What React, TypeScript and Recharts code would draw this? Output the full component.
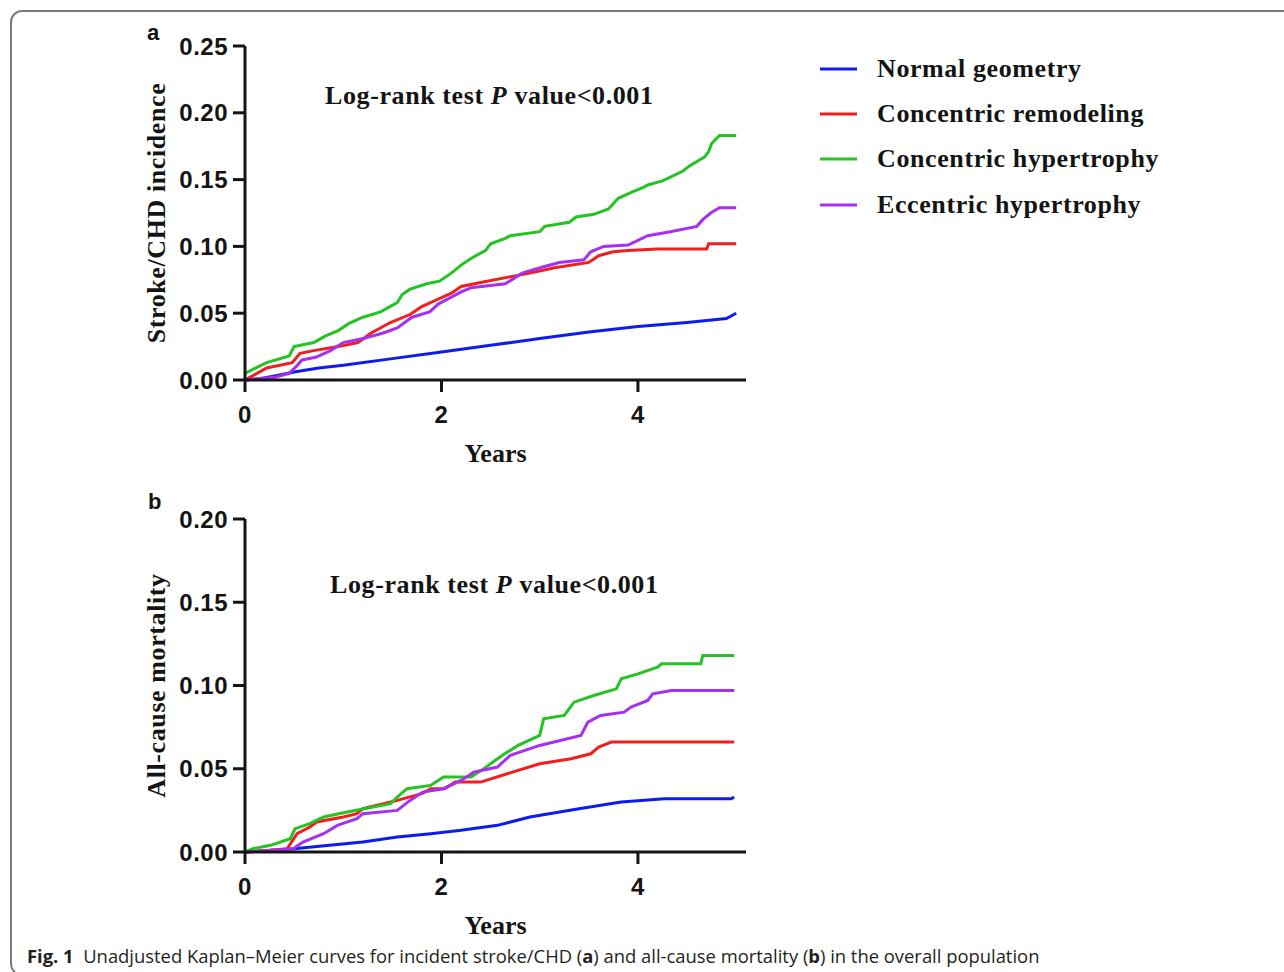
import { LineChart, Line, XAxis, YAxis, Legend, Label } from 'recharts';

// Kaplan-Meier estimates: [years, cumulative incidence]
const normalA: [number, number][] = [
  [0, 0], [0.15, 0.001], [0.3, 0.003], [0.5, 0.006], [0.75, 0.009], [1.0, 0.011], [1.5, 0.016],
  [2.0, 0.021], [2.5, 0.026], [3.0, 0.031], [3.5, 0.036], [4.0, 0.04], [4.5, 0.043], [4.9, 0.046], [5.0, 0.05],
];
const remodelingA: [number, number][] = [
  [0, 0], [0.1, 0.004], [0.22, 0.009], [0.48, 0.013], [0.56, 0.02], [0.7, 0.022], [0.95, 0.025],
  [1.15, 0.028], [1.28, 0.035], [1.48, 0.043], [1.68, 0.049], [1.8, 0.055], [1.98, 0.061], [2.1, 0.065],
  [2.2, 0.07], [2.4, 0.073], [2.68, 0.077], [2.9, 0.08], [3.15, 0.084], [3.5, 0.088], [3.6, 0.093],
  [3.75, 0.096], [3.9, 0.097], [4.2, 0.098], [4.7, 0.098], [4.72, 0.102], [5.0, 0.102],
];
const concentricA: [number, number][] = [
  [0, 0.005], [0.08, 0.008], [0.22, 0.013], [0.45, 0.018], [0.5, 0.025], [0.7, 0.028], [0.82, 0.033],
  [0.95, 0.037], [1.05, 0.042], [1.2, 0.047], [1.38, 0.051], [1.55, 0.058], [1.6, 0.064], [1.68, 0.068],
  [1.85, 0.072], [1.98, 0.074], [2.1, 0.08], [2.2, 0.086], [2.3, 0.091], [2.45, 0.097], [2.5, 0.102],
  [2.65, 0.106], [2.7, 0.108], [3.0, 0.111], [3.05, 0.115], [3.3, 0.118], [3.37, 0.122], [3.55, 0.124],
  [3.7, 0.128], [3.8, 0.136], [3.95, 0.141], [4.05, 0.144], [4.1, 0.146], [4.25, 0.149], [4.45, 0.156],
  [4.52, 0.16], [4.68, 0.167], [4.72, 0.171], [4.75, 0.177], [4.83, 0.183], [5.0, 0.183],
];
const eccentricA: [number, number][] = [
  [0, 0], [0.3, 0.002], [0.45, 0.005], [0.52, 0.01], [0.58, 0.015], [0.72, 0.017], [0.87, 0.022],
  [1.0, 0.028], [1.2, 0.031], [1.4, 0.035], [1.55, 0.039], [1.7, 0.047], [1.88, 0.051], [1.97, 0.057],
  [2.1, 0.062], [2.2, 0.066], [2.3, 0.069], [2.65, 0.072], [2.82, 0.08], [3.05, 0.085], [3.2, 0.088],
  [3.45, 0.09], [3.52, 0.096], [3.65, 0.1], [3.9, 0.101], [4.1, 0.108], [4.33, 0.111], [4.6, 0.115],
  [4.66, 0.12], [4.74, 0.125], [4.83, 0.129], [5.0, 0.129],
];

const normalB: [number, number][] = [
  [0, 0], [0.5, 0.002], [0.86, 0.004], [1.2, 0.006], [1.55, 0.009], [1.89, 0.011], [2.2, 0.013],
  [2.57, 0.016], [2.9, 0.021], [3.4, 0.026], [3.83, 0.03], [4.27, 0.032], [4.95, 0.032], [4.98, 0.033],
];
const remodelingB: [number, number][] = [
  [0, 0], [0.25, 0.001], [0.43, 0.002], [0.53, 0.011], [0.66, 0.015], [0.73, 0.018], [1.0, 0.021],
  [1.14, 0.023], [1.2, 0.026], [1.55, 0.031], [1.8, 0.035], [1.89, 0.038], [2.03, 0.038], [2.14, 0.042],
  [2.4, 0.042], [2.67, 0.047], [3.0, 0.053], [3.32, 0.056], [3.52, 0.059], [3.6, 0.063], [3.73, 0.066],
  [4.98, 0.066],
];
const concentricB: [number, number][] = [
  [0, 0], [0.08, 0.002], [0.26, 0.004], [0.46, 0.008], [0.51, 0.014], [0.66, 0.017], [0.8, 0.021],
  [1.04, 0.024], [1.48, 0.029], [1.55, 0.033], [1.65, 0.038], [1.89, 0.04], [2.02, 0.045], [2.3, 0.045],
  [2.43, 0.05], [2.57, 0.056], [2.67, 0.06], [2.78, 0.064], [3.0, 0.07], [3.04, 0.08], [3.25, 0.082],
  [3.35, 0.09], [3.55, 0.094], [3.78, 0.098], [3.83, 0.104], [4.0, 0.107], [4.2, 0.111], [4.24, 0.113],
  [4.64, 0.113], [4.66, 0.118], [4.98, 0.118],
];
const eccentricB: [number, number][] = [
  [0, 0], [0.3, 0.001], [0.49, 0.002], [0.59, 0.006], [0.8, 0.011], [0.94, 0.016], [1.14, 0.02],
  [1.2, 0.023], [1.55, 0.025], [1.68, 0.031], [1.81, 0.036], [2.02, 0.038], [2.2, 0.043], [2.33, 0.048],
  [2.57, 0.051], [2.7, 0.058], [3.0, 0.064], [3.42, 0.07], [3.49, 0.078], [3.62, 0.082], [3.86, 0.084],
  [3.93, 0.087], [4.1, 0.091], [4.15, 0.095], [4.34, 0.097], [4.98, 0.097],
];

const seriesNames = ['Normal geometry', 'Concentric remodeling', 'Concentric hypertrophy', 'Eccentric hypertrophy'];
const xTicks = [0, 2, 4];
const yTicksA = [0, 0.05, 0.1, 0.15, 0.2, 0.25];
const yTicksB = [0, 0.05, 0.1, 0.15, 0.2];
const colors = ['#0d1bf2', '#f21d1d', '#22c322', '#a62ff0'];

const SANS = "'Liberation Sans', Arial, sans-serif";
const SERIF = "'Liberation Serif', 'Times New Roman', serif";
const INK = '#141414';

const toPoints = (arr: [number, number][]) => arr.map(([t, v]) => ({ t, v }));

const tickStyle = { fill: INK, fontSize: 24, fontWeight: 700, fontFamily: SANS, letterSpacing: 0.5 };
const axisStroke = { stroke: INK, strokeWidth: 3 };

const XTitle = (props: any) => {
  const vb = props.viewBox;
  return (
    <text x={vb.x + vb.width / 2} y={vb.y + 82} textAnchor="middle" fill={INK}
      style={{ fontFamily: SERIF, fontWeight: 700, fontSize: 26 }}>
      Years
    </text>
  );
};

const yTitle = (title: string) => (props: any) => {
  const vb = props.viewBox;
  const x = vb.x + 20;
  const y = vb.y + vb.height / 2;
  return (
    <text x={x} y={y} transform={`rotate(-90, ${x}, ${y})`} textAnchor="middle" fill={INK}
      style={{ fontFamily: SERIF, fontWeight: 700, fontSize: 26, letterSpacing: 0.6 }}>
      {title}
    </text>
  );
};

const renderLegend = (props: any) => {
  const payload = props.payload || [];
  return (
    <div>
      {seriesNames.map((name) => {
        const entry = payload.find((p: any) => p.value === name);
        return (
          <div key={name} style={{ display: 'flex', alignItems: 'center', height: 45.3 }}>
            <svg width={37} height={6}>
              <line x1={0} y1={3} x2={37} y2={3} stroke={entry ? entry.color : INK} strokeWidth={3} />
            </svg>
            <span style={{ marginLeft: 20, fontFamily: SERIF, fontWeight: 700, fontSize: 26, letterSpacing: 0.6, color: INK, whiteSpace: 'nowrap' }}>
              {name}
            </span>
          </div>
        );
      })}
    </div>
  );
};

const KMChart = ({ series, yTicks, title, height, marginTop, marginBottom, legend }: any) => (
  <LineChart width={1284} height={height} margin={{ top: marginTop, right: 538, bottom: marginBottom, left: 145 }}>
    <XAxis type="number" dataKey="t" domain={[0, 5.1]} ticks={xTicks} allowDataOverflow
      axisLine={axisStroke} tickLine={axisStroke} tickSize={12} tickMargin={14} tick={tickStyle} height={90}>
      <Label content={XTitle} />
    </XAxis>
    <YAxis type="number" dataKey="v" domain={[0, yTicks[yTicks.length - 1]]} ticks={yTicks} width={100}
      tickFormatter={(v: number) => v.toFixed(2)}
      axisLine={axisStroke} tickLine={axisStroke} tickSize={12} tickMargin={5} tick={tickStyle}>
      <Label content={yTitle(title)} />
    </YAxis>
    {legend && (
      <Legend layout="vertical" align="center" verticalAlign="middle" content={renderLegend}
        wrapperStyle={{ left: 820, top: 46, width: 400 }} />
    )}
    {series.map((s: [number, number][], i: number) => (
      <Line key={seriesNames[i]} data={toPoints(s)} dataKey="v" name={seriesNames[i]} type="linear"
        stroke={colors[i]} strokeWidth={3} dot={false} activeDot={false} isAnimationActive={false} />
    ))}
  </LineChart>
);

const annotation = { fontFamily: SERIF, fontWeight: 700, fontSize: 26, letterSpacing: 0.6, color: INK, lineHeight: '30px', whiteSpace: 'nowrap' as const };
const panelLetter = { fontFamily: SANS, fontWeight: 700, fontSize: 22, color: INK, lineHeight: '26px' };

export default function App() {
  return (
    <div style={{ position: 'absolute', left: 0, top: 0, width: 1284, height: 972, background: '#fff', overflow: 'hidden' }}>
      <div style={{ position: 'absolute', left: 10, top: 10, width: 1420, height: 962, border: '2px solid #7a7a7a', borderRadius: 12 }} />

      <div style={{ position: 'absolute', left: 0, top: 0 }}>
        <KMChart series={[normalA, remodelingA, concentricA, eccentricA]} yTicks={yTicksA}
          title="Stroke/CHD incidence" height={480} marginTop={46} marginBottom={10} legend />
      </div>
      <div style={{ position: 'absolute', left: 0, top: 480 }}>
        <KMChart series={[normalB, remodelingB, concentricB, eccentricB]} yTicks={yTicksB}
          title="All-cause mortality" height={492} marginTop={39} marginBottom={30} />
      </div>

      <div style={{ position: 'absolute', left: 147, top: 20, ...panelLetter }}>a</div>
      <div style={{ position: 'absolute', left: 148, top: 489, ...panelLetter }}>b</div>

      <div style={{ position: 'absolute', left: 325, top: 81, ...annotation }}>
        Log-rank test <i>P</i> value&lt;0.001
      </div>
      <div style={{ position: 'absolute', left: 330, top: 570, ...annotation }}>
        Log-rank test <i>P</i> value&lt;0.001
      </div>

      <div style={{ position: 'absolute', left: 27, top: 943, fontFamily: "'Open Sans', 'Noto Sans', sans-serif", fontSize: 18.4, lineHeight: '26px', color: '#231f20', whiteSpace: 'nowrap' }}>
        <b>Fig. 1</b>&nbsp; Unadjusted Kaplan–Meier curves for incident stroke/CHD (<b>a</b>) and all-cause mortality (<b>b</b>) in the overall population
      </div>
    </div>
  );
}
